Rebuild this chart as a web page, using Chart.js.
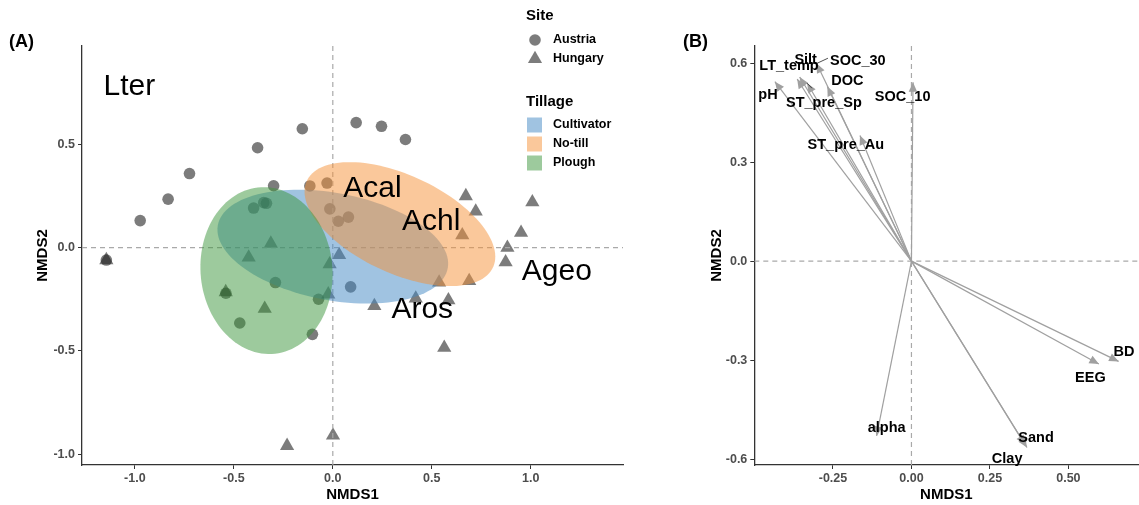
<!DOCTYPE html>
<html><head><meta charset="utf-8">
<script src="https://cdn.jsdelivr.net/npm/chart.js@4.4.0/dist/chart.umd.min.js"></script>
<style>
html,body{margin:0;padding:0;background:#fff;width:1139px;height:505px;overflow:hidden;}
#ca{position:absolute;left:0;top:0;}
#cb{position:absolute;left:640px;top:0;}
</style></head><body>
<canvas id="ca" width="640" height="505"></canvas>
<canvas id="cb" width="499" height="505"></canvas>
<script>
// ---------- Panel A data ----------
const austriaX = [-0.973,-0.832,-0.724,-0.380,-0.154,0.118,0.246,0.367,-0.299,-0.116,-0.029,-0.015,0.028,0.079,-0.400,-0.349,-0.335,-0.290,-0.540,-0.470,-0.103,-0.072,0.090,-1.144];
const austriaY = [0.131,0.235,0.359,0.484,0.576,0.606,0.588,0.524,0.300,0.299,0.313,0.188,0.128,0.148,0.192,0.218,0.215,-0.169,-0.221,-0.365,-0.420,-0.250,-0.190,-0.060];
const hungaryX = [0.672,0.722,1.008,0.654,0.951,0.882,0.873,0.537,0.689,0.419,0.584,0.210,0.563,-0.231,0.001,-0.313,-0.425,0.032,-0.016,-0.023,-0.344,-0.541,-1.144];
const hungaryY = [0.250,0.176,0.220,0.060,0.073,0.000,-0.070,-0.168,-0.161,-0.246,-0.254,-0.282,-0.485,-0.960,-0.910,0.020,-0.047,-0.035,-0.080,-0.226,-0.296,-0.215,-0.060];

const tillageNames = ['Cultivator','No-till','Plough'];
const tillageColors = ['rgba(65,135,195,0.5)','rgba(245,145,55,0.5)','rgba(60,150,60,0.5)'];
const ellipseCX = [0.000, 0.339, -0.335];
const ellipseCY = [0.005, 0.114, -0.111];
const ellipseA  = [0.590, 0.515, 0.405];
const ellipseB  = [0.260, 0.239, 0.333];
const ellipseDeg = [-10, -23.5, -83.8];

const siteLabels = ['Lter','Acal','Achl','Aros','Ageo'];
const siteLabelX = [-1.028, 0.200, 0.497, 0.452, 1.132];
const siteLabelY = [0.780, 0.284, 0.124, -0.301, -0.118];

const aTicksX = [-1.0,-0.5,0.0,0.5,1.0];
const aTicksY = [-1.0,-0.5,0.0,0.5];

// ---------- Panel B data ----------
const vecNames = ['pH','LT_temp','Silt','SOC_30','ST_pre_Sp','DOC','ST_pre_Au','SOC_10','alpha','Sand','Clay','EEG','BD'];
const vecX = [-0.435,-0.364,-0.356,-0.302,-0.332,-0.268,-0.164,0.005,-0.111,0.368,0.362,0.597,0.660];
const vecY = [0.544,0.552,0.558,0.599,0.539,0.529,0.381,0.542,-0.530,-0.565,-0.557,-0.312,-0.304];
const vecLabelX = [-0.457,-0.390,-0.337,-0.171,-0.279,-0.204,-0.209,-0.028,-0.079,0.397,0.305,0.570,0.677];
const vecLabelY = [0.504,0.590,0.610,0.608,0.480,0.545,0.353,0.498,-0.505,-0.535,-0.599,-0.353,-0.274];
// repel connector segments
const segFromX = [-0.302,-0.332];
const segFromY = [0.599,0.539];
const segToX = [-0.266,-0.317];
const segToY = [0.615,0.524];

const bTicksX = [-0.25,0.00,0.25,0.50];
const bTicksY = [-0.6,-0.3,0.0,0.3,0.6];

Chart.defaults.font.family = "'Liberation Sans', Arial, Helvetica, sans-serif";

const FONT = "'Liberation Sans', Arial, Helvetica, sans-serif";
const POINT_COL = 'rgba(25,25,25,0.57)';

function axisCommon(ticks, dec, fitFn) {
  return {
    type: 'linear',
    afterBuildTicks: s => { s.ticks = ticks.map(v => ({value: v})); },
    afterFit: fitFn,
    ticks: { callback: v => Number(v).toFixed(dec), font: {size: 12.5, weight: 'bold'}, color: '#4d4d4d', autoSkip: false, maxRotation: 0, minRotation: 0 },
    grid: { drawOnChartArea: false, drawTicks: true, tickLength: 4, color: '#333333', lineWidth: 1 },
    border: { display: true, color: '#333333', width: 1.3 }
  };
}

function dashedZero(chart) {
  const {ctx, chartArea: ca, scales: {x, y}} = chart;
  ctx.save();
  ctx.beginPath(); ctx.rect(ca.left, ca.top, ca.right - ca.left, ca.bottom - ca.top); ctx.clip();
  ctx.setLineDash([5, 4]); ctx.strokeStyle = '#a9a9a9'; ctx.lineWidth = 1.2;
  const x0 = x.getPixelForValue(0), y0 = y.getPixelForValue(0);
  ctx.beginPath();
  ctx.moveTo(x0, ca.top); ctx.lineTo(x0, ca.bottom);
  ctx.moveTo(ca.left, y0); ctx.lineTo(ca.right, y0);
  ctx.stroke();
  ctx.restore();
}

const pluginA = {
  id: 'panelA',
  afterDatasetsDraw(chart) {
    const {ctx, chartArea: ca, scales: {x, y}} = chart;
    dashedZero(chart);
    ctx.save();
    ctx.beginPath(); ctx.rect(ca.left, ca.top, ca.right - ca.left, ca.bottom - ca.top); ctx.clip();
    for (let i = 0; i < tillageNames.length; i++) {
      const th = ellipseDeg[i] * Math.PI / 180;
      ctx.beginPath();
      for (let k = 0; k <= 120; k++) {
        const t = k / 120 * 2 * Math.PI;
        const dx = ellipseA[i] * Math.cos(t), dy = ellipseB[i] * Math.sin(t);
        const px = x.getPixelForValue(ellipseCX[i] + dx * Math.cos(th) - dy * Math.sin(th));
        const py = y.getPixelForValue(ellipseCY[i] + dx * Math.sin(th) + dy * Math.cos(th));
        if (k === 0) ctx.moveTo(px, py); else ctx.lineTo(px, py);
      }
      ctx.closePath();
      ctx.fillStyle = tillageColors[i];
      ctx.fill();
    }
    ctx.fillStyle = '#000';
    ctx.font = '30px ' + FONT;
    ctx.textAlign = 'center'; ctx.textBaseline = 'middle';
    for (let i = 0; i < siteLabels.length; i++) {
      ctx.fillText(siteLabels[i], x.getPixelForValue(siteLabelX[i]), y.getPixelForValue(siteLabelY[i]));
    }
    ctx.restore();
  },
  afterDraw(chart) {
    const ctx = chart.ctx;
    ctx.save();
    ctx.fillStyle = '#000';
    ctx.textBaseline = 'middle'; ctx.textAlign = 'left';
    ctx.font = 'bold 18px ' + FONT;
    ctx.fillText('(A)', 9, 42);
    // legend
    ctx.font = 'bold 15px ' + FONT;
    ctx.fillText('Site', 526, 16);
    ctx.fillText('Tillage', 526, 102);
    ctx.font = 'bold 12.5px ' + FONT;
    ctx.fillStyle = POINT_COL;
    ctx.beginPath(); ctx.arc(535, 40, 5.8, 0, 2 * Math.PI); ctx.fill();
    ctx.beginPath();
    const r = 8.2, cx = 535, cy = 59;
    ctx.moveTo(cx, cy - r); ctx.lineTo(cx + r * 0.866, cy + r / 2); ctx.lineTo(cx - r * 0.866, cy + r / 2); ctx.closePath(); ctx.fill();
    ctx.fillStyle = '#000';
    ctx.fillText('Austria', 553, 40);
    ctx.fillText('Hungary', 553, 59);
    for (let i = 0; i < tillageNames.length; i++) {
      const yc = 125 + 19 * i;
      ctx.fillStyle = tillageColors[i];
      ctx.fillRect(527, yc - 7.5, 15, 15);
      ctx.fillStyle = '#000';
      ctx.fillText(tillageNames[i], 553, yc);
    }
    ctx.restore();
  }
};

const chartA = new Chart(document.getElementById('ca'), {
  type: 'scatter',
  data: {
    datasets: [
      { label: 'Austria', data: austriaX.map((v, i) => ({x: v, y: austriaY[i]})), pointStyle: 'circle', pointRadius: 5.8, backgroundColor: POINT_COL, borderWidth: 0 },
      { label: 'Hungary', data: hungaryX.map((v, i) => ({x: v, y: hungaryY[i]})), pointStyle: 'triangle', pointRadius: 8.2, backgroundColor: POINT_COL, borderWidth: 0 }
    ]
  },
  options: {
    responsive: false, animation: false, devicePixelRatio: 1,
    layout: { padding: {left: 0, right: 17, top: 46, bottom: 0} },
    plugins: { legend: {display: false}, tooltip: {enabled: false} },
    scales: {
      x: Object.assign(axisCommon(aTicksX, 1, s => { s.height = 40; }), {
        min: -1.267, max: 1.466,
        title: {display: true, text: 'NMDS1', font: {size: 15, weight: 'bold'}, color: '#000', padding: {top: 0, bottom: 1}}
      }),
      y: Object.assign(axisCommon(aTicksY, 1, s => { s.width = 82; }), {
        min: -1.053, max: 0.977,
        title: {display: true, text: 'NMDS2', font: {size: 15, weight: 'bold'}, color: '#000', padding: {top: 34, bottom: 0}}
      })
    }
  },
  plugins: [pluginA]
});
chartA.options.scales.x.ticks.padding = 2;
chartA.options.scales.y.ticks.padding = 3;
chartA.update();

const ARROW_COL = '#a0a0a0';
const pluginB = {
  id: 'panelB',
  beforeDatasetsDraw(chart) { dashedZero(chart); },
  afterDatasetsDraw(chart) {
    const {ctx, scales: {x, y}} = chart;
    ctx.save();
    const ox = x.getPixelForValue(0), oy = y.getPixelForValue(0);
    ctx.fillStyle = ARROW_COL;
    for (let i = 0; i < vecNames.length; i++) {
      const tx = x.getPixelForValue(vecX[i]), ty = y.getPixelForValue(vecY[i]);
      const ang = Math.atan2(ty - oy, tx - ox);
      const L = 9.5, W = 4.2;
      const bx = tx - L * Math.cos(ang), by = ty - L * Math.sin(ang);
      ctx.beginPath();
      ctx.moveTo(tx, ty);
      ctx.lineTo(bx + W * Math.sin(ang), by - W * Math.cos(ang));
      ctx.lineTo(bx - W * Math.sin(ang), by + W * Math.cos(ang));
      ctx.closePath(); ctx.fill();
    }
    ctx.strokeStyle = '#222'; ctx.lineWidth = 0.8;
    for (let i = 0; i < segFromX.length; i++) {
      ctx.beginPath();
      ctx.moveTo(x.getPixelForValue(segFromX[i]), y.getPixelForValue(segFromY[i]));
      ctx.lineTo(x.getPixelForValue(segToX[i]), y.getPixelForValue(segToY[i]));
      ctx.stroke();
    }
    ctx.fillStyle = '#000';
    ctx.font = 'bold 14.5px ' + FONT;
    ctx.textAlign = 'center'; ctx.textBaseline = 'middle';
    for (let i = 0; i < vecNames.length; i++) {
      ctx.fillText(vecNames[i], x.getPixelForValue(vecLabelX[i]), y.getPixelForValue(vecLabelY[i]));
    }
    ctx.restore();
  },
  afterDraw(chart) {
    const ctx = chart.ctx;
    ctx.save();
    ctx.fillStyle = '#000';
    ctx.textBaseline = 'middle'; ctx.textAlign = 'left';
    ctx.font = 'bold 18px ' + FONT;
    ctx.fillText('(B)', 43, 42);
    ctx.restore();
  }
};

const chartB = new Chart(document.getElementById('cb'), {
  type: 'scatter',
  data: {
    datasets: vecNames.map((n, i) => ({
      label: n,
      data: [{x: 0, y: 0}, {x: vecX[i], y: vecY[i]}],
      showLine: true, borderColor: ARROW_COL, borderWidth: 1.2, pointRadius: 0, pointHoverRadius: 0, fill: false
    }))
  },
  options: {
    responsive: false, animation: false, devicePixelRatio: 1,
    layout: { padding: {left: 0, right: 0, top: 46, bottom: 0} },
    plugins: { legend: {display: false}, tooltip: {enabled: false} },
    scales: {
      x: Object.assign(axisCommon(bTicksX, 2, s => { s.height = 40; }), {
        min: -0.5006, max: 0.723,
        title: {display: true, text: 'NMDS1', font: {size: 15, weight: 'bold'}, color: '#000', padding: {top: 0, bottom: 1}}
      }),
      y: Object.assign(axisCommon(bTicksY, 1, s => { s.width = 114.3; }), {
        min: -0.618, max: 0.652,
        title: {display: true, text: 'NMDS2', font: {size: 15, weight: 'bold'}, color: '#000', padding: {top: 68, bottom: 0}}
      })
    }
  },
  plugins: [pluginB]
});
chartB.options.scales.x.ticks.padding = 2;
chartB.options.scales.y.ticks.padding = 3;
chartB.update();
</script>
</body></html>
